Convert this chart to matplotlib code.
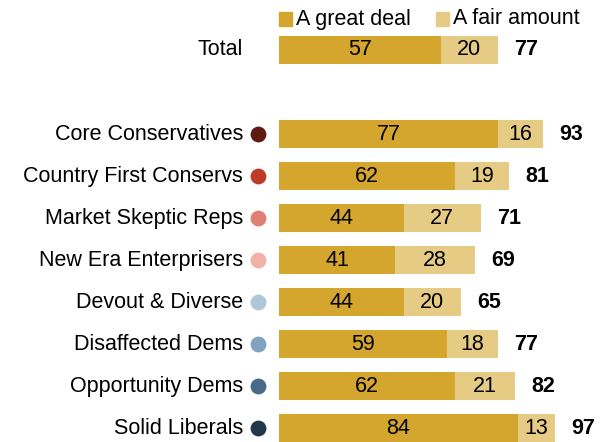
import matplotlib.pyplot as plt

plt.rcParams['font.family'] = ['Liberation Sans', 'DejaVu Sans']

groups = ["Total", "Core Conservatives", "Country First Conservs", "Market Skeptic Reps",
          "New Era Enterprisers", "Devout & Diverse", "Disaffected Dems",
          "Opportunity Dems", "Solid Liberals"]
great_deal = [57, 77, 62, 44, 41, 44, 59, 62, 84]
fair_amount = [20, 16, 19, 27, 28, 20, 18, 21, 13]
net = [77, 93, 81, 71, 69, 65, 77, 82, 97]
dot_colors = [None, "#5E1B14", "#BF3A27", "#E07F72", "#F1B1A6",
              "#AEC7D8", "#80A4C0", "#466A88", "#22384A"]

c_great = "#D4A62E"
c_fair = "#E6CB85"

# Total sits at the top, then a gap of one row before the typology groups
ypos = [0] + list(range(2, 2 + len(groups) - 1))

fig = plt.figure(figsize=(6.08, 4.42), dpi=100)
ax = fig.add_axes([279 / 608, 0, 329 / 608, 1])
ax.set_xlim(0, 115.8)
ax.set_ylim(9.33, -1.19)
ax.axis("off")

h = 0.66
ax.barh(ypos, great_deal, height=h, color=c_great)
ax.barh(ypos, fair_amount, left=great_deal, height=h, color=c_fair)

fs = 15.5
for y, g, f, n, name, dc in zip(ypos, great_deal, fair_amount, net, groups, dot_colors):
    ax.text(g / 2, y, str(g), ha="center", va="center", fontsize=fs)
    ax.text(g + f / 2, y, str(f), ha="center", va="center", fontsize=fs)
    ax.text(g + f + 5.8, y, str(n), ha="left", va="center", fontsize=fs, fontweight="bold")
    ax.text(-12.7, y, name, ha="right", va="center", fontsize=fs)
    if dc:
        ax.scatter([-7.4], [y], s=130, color=dc, clip_on=False, zorder=3, linewidths=0)

# legend
fig.patches.append(plt.Rectangle((279 / 608, 1 - 26 / 442), 13 / 608, 14 / 442,
                                 color=c_great, transform=fig.transFigure))
fig.text(296 / 608, 1 - 19 / 442, "A great deal", ha="left", va="center", fontsize=fs)
fig.patches.append(plt.Rectangle((436 / 608, 1 - 26 / 442), 13 / 608, 14 / 442,
                                 color=c_fair, transform=fig.transFigure))
fig.text(453 / 608, 1 - 19 / 442, "A fair amount", ha="left", va="center", fontsize=fs)

fig.savefig("out.png", dpi=100)
